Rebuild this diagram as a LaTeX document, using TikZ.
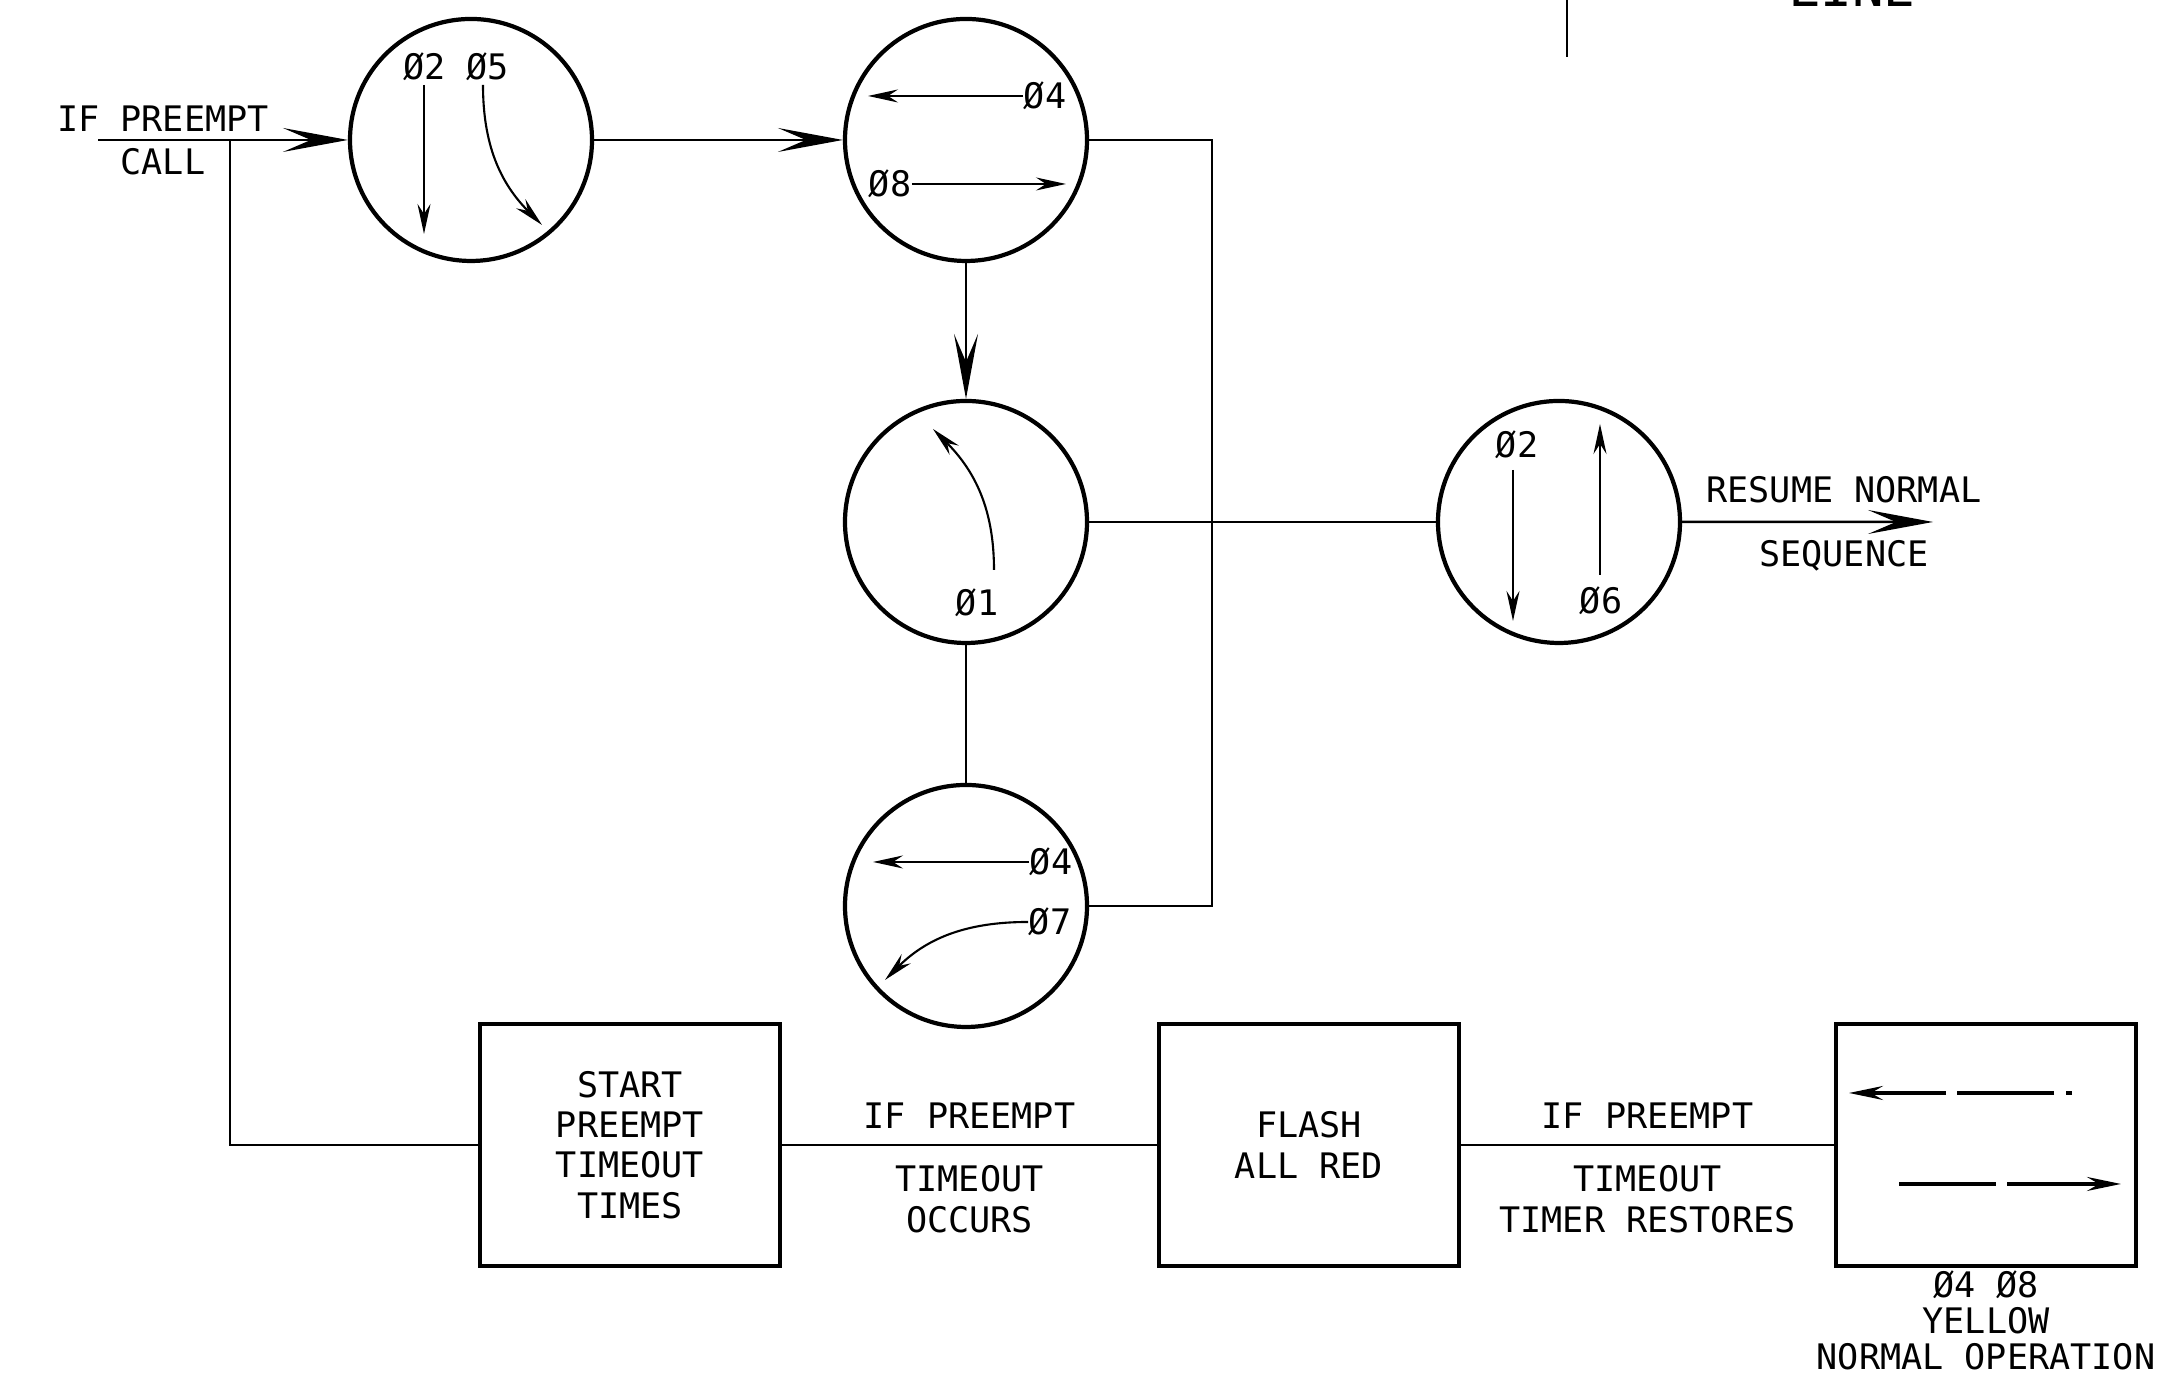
\documentclass[tikz,border=0pt]{standalone}
\usepackage{fontspec}
\setmainfont{DejaVu Sans Mono}
\usepackage{tikz}
\usetikzlibrary{arrows.meta,positioning,calc}
\tikzset{
	phase/.style = {draw, circle, line width=1.2pt, minimum size=2.42cm, inner sep=0pt},
	block/.style = {draw, rectangle, line width=1.2pt, minimum width=3cm, minimum height=2.42cm, align=center, font=\fontsize{10}{11.5}\selectfont},
	txt/.style = {inner sep=0pt, align=center, font=\fontsize{10}{11.5}\selectfont},
	tmp/.style = {coordinate},
	wire/.style = {line width=0.7pt},
	flow/.style = {line width=0.7pt, -{Stealth[length=6.5mm,width=2.4mm,inset=2.8mm]}},
	sig/.style = {line width=0.6pt, -{Stealth[length=3mm,width=1.3mm,inset=1mm]}},
	dsig/.style = {line width=1pt, -{Stealth[length=3.4mm,width=1.4mm,inset=1.2mm]}}
}

\begin{document}
\begin{tikzpicture}
	\useasboundingbox (0,0) rectangle (21.75,13.75);
	% phase circles
	\node [phase] (A) at (4.71,12.35) {};
	\node [phase, right of=A, node distance=4.95cm] (B) {};
	\node [phase, below of=B, node distance=3.82cm] (C) {};
	\node [phase, below of=C, node distance=3.84cm] (D) {};
	\node [phase, right of=C, node distance=5.93cm] (E) {};
	% boxes
	\node [block] (start) at (6.30,2.30) {START\\PREEMPT\\TIMEOUT\\TIMES};
	\node [block] (flash) at (13.09,2.30) {FLASH\\ALL RED};
	\node [block] (yellow) at (19.86,2.30) {};
	\node [txt, font=\fontsize{10}{10.3}\selectfont, below=0.02cm of yellow] (yelLbl) {Ø4 Ø8\\YELLOW\\NORMAL OPERATION};
	% free ends
	\node [tmp] (in) at (0.98,12.35) {};
	\node [tmp] (tap) at (2.30,12.35) {};
	\node [tmp] (bend) at (12.12,12.35) {};
	\node [tmp] (out) at (19.33,8.53) {};
	\node [tmp] (lineTop) at (15.67,13.75) {};
	\node [tmp] (lineBot) at (15.67,13.18) {};
	\node [txt, font=\fontsize{15}{18}\selectfont, anchor=base] (lineLbl) at (18.52,13.68) {LINE};

	% connectors
	\draw [flow] (in) -- node[txt, pos=0.26, above=2pt]{IF PREEMPT} node[txt, pos=0.26, below=2pt]{CALL} (A);
	\draw [wire] (tap) |- (start);
	\draw [flow] (A) -- (B);
	\draw [flow] (B) -- (C);
	\draw [wire] (B.east) -- (bend) |- (D.east);
	\draw [wire] (C) -- (D);
	\draw [wire] (C) -- (E);
	\draw [flow] (E) -- node[txt, pos=0.645, above=5pt]{RESUME NORMAL} node[txt, pos=0.645, below=5pt]{SEQUENCE} (out);
	\draw [wire] (start) -- node[txt, above=4.3pt]{IF PREEMPT} node[txt, below=5.5pt]{TIMEOUT\\OCCURS} (flash);
	\draw [wire] (flash) -- node[txt, above=4.3pt]{IF PREEMPT} node[txt, below=5.5pt]{TIMEOUT\\TIMER RESTORES} (yellow);
	\draw [wire] (lineTop) -- (lineBot);

	% circle A
	\node [txt] (a25) at ($(A)+(-0.15,0.73)$) {Ø2 Ø5};
	\draw [sig] ($(A)+(-0.47,0.55)$) -- ($(A)+(-0.47,-0.94)$);
	\draw [sig] ($(A)+(0.12,0.55)$) to[out=-90,in=135] ($(A)+(0.71,-0.85)$);
	% circle B
	\node [txt] (b4) at ($(B)+(0.79,0.44)$) {Ø4};
	\draw [sig] (b4.west) -- ($(B)+(-0.98,0.44)$);
	\node [txt] (b8) at ($(B)+(-0.76,-0.44)$) {Ø8};
	\draw [sig] (b8.east) -- ($(B)+(1.00,-0.44)$);
	% circle C
	\node [txt] (c1) at ($(C)+(0.11,-0.81)$) {Ø1};
	\draw [sig] ($(C)+(0.28,-0.48)$) to[out=90,in=-45] ($(C)+(-0.33,0.93)$);
	% circle D
	\node [txt] (d4) at ($(D)+(0.85,0.44)$) {Ø4};
	\draw [sig] (d4.west) -- ($(D)+(-0.93,0.44)$);
	\node [txt] (d7) at ($(D)+(0.84,-0.16)$) {Ø7};
	\draw [sig] (d7.west) to[out=180,in=45] ($(D)+(-0.81,-0.74)$);
	% circle E
	\node [txt] (e2) at ($(E)+(-0.42,0.77)$) {Ø2};
	\draw [sig] ($(E)+(-0.46,0.52)$) -- ($(E)+(-0.46,-0.99)$);
	\draw [sig] ($(E)+(0.41,-0.53)$) -- ($(E)+(0.41,0.98)$);
	\node [txt] (e6) at ($(E)+(0.42,-0.79)$) {Ø6};
	% yellow box
	\draw [dsig, dash pattern=on 0.06cm off 0.12cm on 0.97cm off 0.11cm on 2cm] ($(yellow)+(0.86,0.52)$) -- ($(yellow)+(-1.37,0.52)$);
	\draw [dsig, dash pattern=on 0.97cm off 0.11cm on 2cm] ($(yellow)+(-0.87,-0.39)$) -- ($(yellow)+(1.35,-0.39)$);
\end{tikzpicture}
\end{document}
